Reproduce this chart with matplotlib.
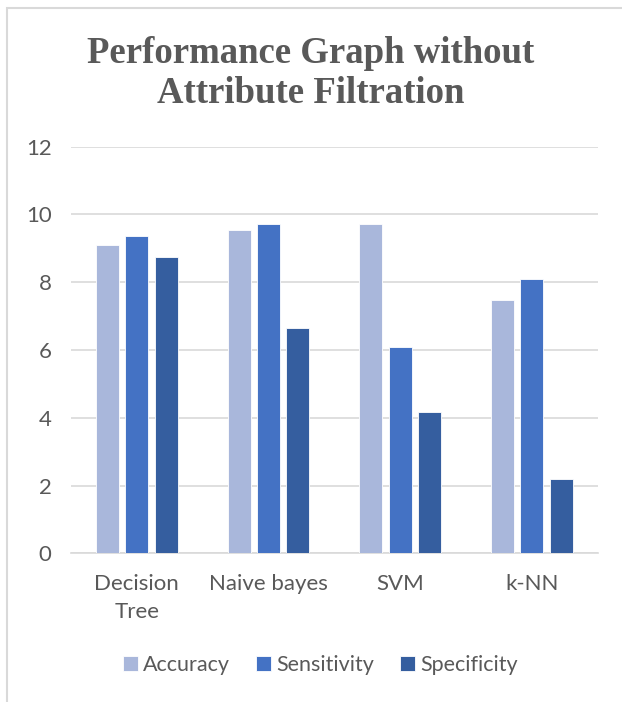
"""
Performance Graph without Attribute Filtration

Grouped bar chart of accuracy / sensitivity / specificity per classifier.
"""
import numpy as np
from matplotlib import pyplot as plt
from matplotlib.patches import Rectangle

classifiers = ['Decision\nTree', 'Naive bayes', 'SVM', 'k-NN']
accuracy = [9.1, 9.53, 9.72, 7.48]
sensitivity = [9.37, 9.72, 6.09, 8.11]
specificity = [8.74, 6.64, 4.18, 2.2]
series_names = ['Accuracy', 'Sensitivity', 'Specificity']
colors = ['#A9B7DB', '#4472C4', '#355E9F']

text_gray = '#595959'
grid_gray = '#D9D9D9'

plt.rcParams['font.family'] = ['Lato', 'DejaVu Sans']

fig = plt.figure(figsize=(6.22, 7.02), dpi=100)
ax = fig.add_axes([0.1141, 0.2118, 0.961 - 0.1141, 0.791 - 0.2118])

# chart border (cropped on the right and bottom in the original)
fig.patches.append(Rectangle((7 / 622, -0.1), 1.2, 1 - 8 / 702 + 0.1,
                             transform=fig.transFigure, fill=False,
                             edgecolor='#D9D9D9', linewidth=1.5))

x = np.arange(len(classifiers))
width = 0.175
step = 0.222
for i, (vals, name, c) in enumerate(zip([accuracy, sensitivity, specificity],
                                         series_names, colors)):
    ax.bar(x + (i - 1) * step, vals, width, color=c, label=name,
           edgecolor='white', linewidth=0.6, zorder=3)

ax.set_xlim(-0.5, len(classifiers) - 0.5)
ax.set_ylim(0, 12)
ax.set_yticks(range(0, 13, 2))
ax.yaxis.grid(True, color=grid_gray, linewidth=1.2, zorder=0)
ax.set_axisbelow(True)
for side in ['top', 'right', 'left']:
    ax.spines[side].set_visible(False)
ax.spines['bottom'].set_color(grid_gray)
ax.spines['bottom'].set_linewidth(1.2)
ax.tick_params(axis='both', length=0, labelsize=16, labelcolor=text_gray)
ax.tick_params(axis='y', pad=14)
ax.tick_params(axis='x', pad=15)
ax.set_xticks(x)
ax.set_xticklabels(classifiers, linespacing=1.5)

fig.text(0.5, 0.895, 'Performance Graph without\nAttribute Filtration',
         ha='center', va='center', family='Liberation Serif', weight='bold',
         fontsize=26.5, color=text_gray, linespacing=1.2)

fig.legend(loc='center', bbox_to_anchor=(0.515, 0.052), ncol=3, frameon=False,
           fontsize=15.5, labelcolor=text_gray, handlelength=0.7, handleheight=0.7,
           handletextpad=0.25, columnspacing=1.2)

plt.savefig('out.png', dpi=100)
